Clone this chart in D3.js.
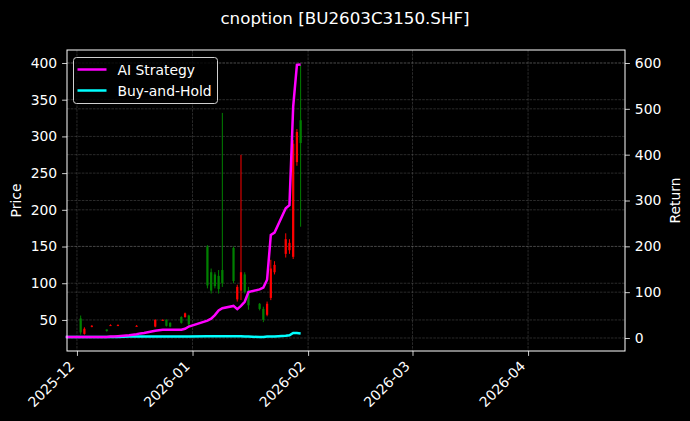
<!DOCTYPE html>
<html>
<head>
<meta charset="utf-8">
<script src="https://cdn.jsdelivr.net/npm/d3@7"></script>
<style>
  html, body { margin: 0; padding: 0; background: #000; }
  text { font-family: "DejaVu Sans", sans-serif; fill: #fff; }
</style>
</head>
<body>
<div id="chart"></div>
<script>
// data
const lineDates = ["2025-11-28",
  "2025-12-01", "2025-12-02", "2025-12-03", "2025-12-04", "2025-12-05",
  "2025-12-08", "2025-12-09", "2025-12-10", "2025-12-11", "2025-12-12",
  "2025-12-15", "2025-12-16", "2025-12-17", "2025-12-18", "2025-12-19",
  "2025-12-22", "2025-12-23", "2025-12-24", "2025-12-25", "2025-12-26",
  "2025-12-29", "2025-12-30", "2025-12-31",
  "2026-01-05", "2026-01-06", "2026-01-07", "2026-01-08", "2026-01-09",
  "2026-01-12", "2026-01-13", "2026-01-14", "2026-01-15", "2026-01-16",
  "2026-01-19", "2026-01-20", "2026-01-21", "2026-01-22", "2026-01-23",
  "2026-01-26", "2026-01-27", "2026-01-28", "2026-01-29", "2026-01-30"]
const aiReturn = [2,
  2, 2, 2, 2, 2,
  2, 2, 3, 3, 4,
  6, 7, 8, 10, 11,
  16, 17, 18, 18, 18,
  18, 20, 25,
  38, 42, 50, 60, 65,
  70, 63, 70, 79, 100,
  106, 110, 127, 225, 230,
  283, 290, 505, 596, 597]
const buyHold = [2,
  2, 2, 2, 2, 2,
  2, 2, 2, 2, 2,
  3, 3, 3, 3, 3,
  3, 3, 3, 3, 3,
  3, 3, 3,
  4, 4, 4, 4, 4,
  4, 4, 4, 3, 3,
  2, 2, 3, 3, 3,
  5, 6, 11, 11, 10]

const candleDates = ["2025-12-02", "2025-12-03", "2025-12-05", "2025-12-09", "2025-12-10",
  "2025-12-12", "2025-12-17", "2025-12-19", "2025-12-22", "2025-12-24", "2025-12-25",
  "2025-12-26", "2025-12-29", "2025-12-30", "2025-12-31",
  "2026-01-05", "2026-01-06", "2026-01-07", "2026-01-08", "2026-01-09",
  "2026-01-12", "2026-01-13", "2026-01-14", "2026-01-15", "2026-01-16",
  "2026-01-19", "2026-01-20", "2026-01-21", "2026-01-22", "2026-01-23",
  "2026-01-26", "2026-01-27", "2026-01-28", "2026-01-29", "2026-01-30"]
const opens  = [33, 38, 42, 35, 43, 43, 42, 32, 50, 50, 42, 41, 46, 59, 44,
  97, 90, 96, 92, 100, 103, 95, 115, 88, 70, 65, 50, 72, 120, 125, 160, 155, 290, 306, 291]
const highs  = [56, 40, 43, 37, 44, 44, 43, 33, 51, 51, 51, 47, 55, 60, 57,
  152, 120, 115, 118, 332, 150, 98, 275, 115, 95, 73, 68, 75, 132, 130, 168, 160, 295, 310, 397]
const lows   = [30, 30, 40, 34, 42, 42, 41, 31, 40, 49, 41, 40, 45, 53, 42,
  93, 86, 93, 86, 95, 100, 75, 77, 86, 64, 63, 47, 55, 77, 112, 135, 140, 133, 260, 177]
const closes = [52, 31, 41, 37, 42, 42, 41, 33, 41, 49, 50, 46, 54, 54, 56,
  150, 115, 112, 110, 118, 148, 78, 90, 112, 90, 72, 65, 57, 80, 115, 140, 145, 136, 265, 322]

const yTicksLeft = [50, 100, 150, 200, 250, 300, 350, 400]
const yTicksRight = [0, 100, 200, 300, 400, 500, 600]

// sizes
const width = 690
const height = 421
const margin = { top: 50, right: 65, bottom: 70, left: 67 }
const x0 = margin.left, x1 = width - margin.right
const y0 = margin.top, y1 = height - margin.bottom

const parse = d3.utcParse("%Y-%m-%d")

const svg = d3.select("#chart").append("svg")
  .attr("width", width).attr("height", height)
  .style("background", "#000")

// scales
const x = d3.scaleUtc()
  .domain([new Date(Date.UTC(2025, 10, 28, 8)), new Date(Date.UTC(2026, 3, 27))])
  .range([x0, x1])
const yPrice = d3.scaleLinear().domain([7.7, 417.7]).range([y1, y0])
const yRet = d3.scaleLinear().domain([-28.4, 628.4]).range([y1, y0])

const monthTicks = d3.utcMonth.range(new Date(Date.UTC(2025, 11, 1)), new Date(Date.UTC(2026, 4, 1)))

// grid
const grid = svg.append("g").attr("id", "grid")
  .attr("stroke", "#808080").attr("stroke-opacity", 0.55)
  .attr("stroke-width", 0.6).attr("stroke-dasharray", "2.6,1.1")
grid.selectAll(".gx").data(monthTicks).enter().append("line")
  .attr("x1", d => x(d)).attr("x2", d => x(d)).attr("y1", y0).attr("y2", y1)
grid.selectAll(".gyl").data(yTicksLeft).enter().append("line")
  .attr("x1", x0).attr("x2", x1).attr("y1", d => yPrice(d)).attr("y2", d => yPrice(d))
grid.selectAll(".gyr").data(yTicksRight).enter().append("line")
  .attr("x1", x0).attr("x2", x1).attr("y1", d => yRet(d)).attr("y2", d => yRet(d))

// candles
const candles = candleDates.map((d, i) => ({
  date: parse(d), open: opens[i], high: highs[i], low: lows[i], close: closes[i]
}))
const dayPx = x(parse("2026-01-02")) - x(parse("2026-01-01"))
const candleGroup = svg.append("g").attr("id", "candles")
candleGroup.selectAll("line").data(candles).enter().append("line")
  .attr("x1", d => x(d.date)).attr("x2", d => x(d.date))
  .attr("y1", d => yPrice(d.high)).attr("y2", d => yPrice(d.low))
  .attr("stroke", d => d.close >= d.open ? "green" : "red")
  .attr("stroke-width", 1)
candleGroup.selectAll("rect").data(candles).enter().append("rect")
  .attr("x", d => x(d.date) - dayPx * 0.3)
  .attr("width", dayPx * 0.6)
  .attr("y", d => yPrice(Math.max(d.open, d.close)))
  .attr("height", d => Math.max(1, Math.abs(yPrice(d.open) - yPrice(d.close))))
  .attr("fill", d => d.close >= d.open ? "green" : "red")

// lines
const lineData = lineDates.map((d, i) => ({ date: parse(d), ai: aiReturn[i], bh: buyHold[i] }))
svg.append("path").datum(lineData)
  .attr("fill", "none").attr("stroke", "cyan").attr("stroke-width", 2.5)
  .attr("d", d3.line().x(d => x(d.date)).y(d => yRet(d.bh)))
svg.append("path").datum(lineData)
  .attr("fill", "none").attr("stroke", "magenta").attr("stroke-width", 2.5)
  .attr("d", d3.line().x(d => x(d.date)).y(d => yRet(d.ai)))

// axes
const xAxis = d3.axisBottom(x).tickValues(monthTicks).tickFormat(d3.utcFormat("%Y-%m"))
  .tickSize(4.9).tickPadding(4)
const yAxisL = d3.axisLeft(yPrice).tickValues(yTicksLeft).tickSize(4.9).tickPadding(4.9)
const yAxisR = d3.axisRight(yRet).tickValues(yTicksRight).tickSize(4.9).tickPadding(4.9)

const xGroup = svg.append("g").attr("transform", `translate(0, ${y1})`).call(xAxis)
const yGroupL = svg.append("g").attr("transform", `translate(${x0}, 0)`).call(yAxisL)
const yGroupR = svg.append("g").attr("transform", `translate(${x1}, 0)`).call(yAxisR)

;[xGroup, yGroupL, yGroupR].forEach(g => {
  g.select(".domain").remove()
  g.selectAll(".tick line").attr("stroke", "#fff").attr("stroke-width", 0.8)
  g.selectAll(".tick text").attr("fill", "#fff")
    .style("font-size", "13.9px").style("font-family", "DejaVu Sans")
})

// rotated x labels
xGroup.selectAll(".tick text")
  .attr("text-anchor", "end")
  .attr("dy", null).attr("y", null)
  .attr("transform", "translate(-2.3, 16) rotate(-45)")

// frame
svg.append("rect")
  .attr("x", x0).attr("y", y0).attr("width", x1 - x0).attr("height", y1 - y0)
  .attr("fill", "none").attr("stroke", "#fff").attr("stroke-width", 1)

// labels
svg.append("text").attr("x", width / 2).attr("y", 24)
  .attr("text-anchor", "middle").style("font-size", "16.7px")
  .text("cnoption [BU2603C3150.SHF]")
svg.append("text")
  .attr("transform", `translate(21, ${(y0 + y1) / 2}) rotate(-90)`)
  .attr("text-anchor", "middle").style("font-size", "13.9px")
  .text("Price")
svg.append("text")
  .attr("transform", `translate(680, ${(y0 + y1) / 2}) rotate(-90)`)
  .attr("text-anchor", "middle").style("font-size", "13.9px")
  .text("Return")

// legend
const legend = svg.append("g").attr("transform", "translate(73.5, 57.5)")
legend.append("rect").attr("width", 144).attr("height", 46).attr("rx", 3)
  .attr("fill", "#000").attr("fill-opacity", 0.8)
  .attr("stroke", "#d0d0d0").attr("stroke-width", 1)
const legendItems = [["AI Strategy", "magenta"], ["Buy-and-Hold", "cyan"]]
legendItems.forEach((item, i) => {
  legend.append("line").attr("x1", 4).attr("x2", 33)
    .attr("y1", 12 + i * 21).attr("y2", 12 + i * 21)
    .attr("stroke", item[1]).attr("stroke-width", 2.5)
  legend.append("text").attr("x", 44).attr("y", 17 + i * 21)
    .style("font-size", "13.9px").text(item[0])
})
</script>
</body>
</html>
